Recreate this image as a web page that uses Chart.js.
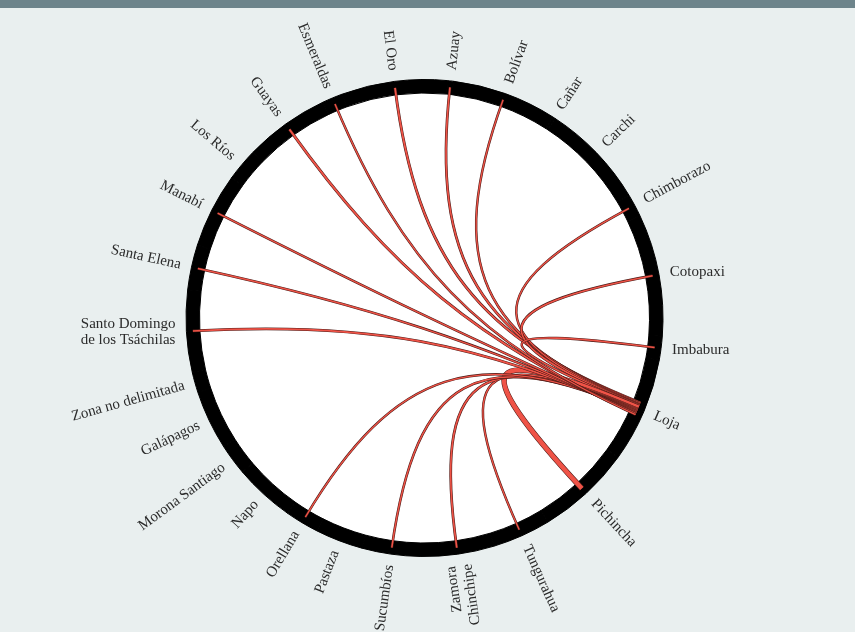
<!DOCTYPE html>
<html><head><meta charset="utf-8">
<script src="https://cdn.jsdelivr.net/npm/chart.js@4.4.1/dist/chart.umd.min.js"></script>
<style>
html,body{margin:0;padding:0;background:#e9efef;width:855px;height:632px;overflow:hidden}
#bar{position:absolute;left:0;top:0;width:855px;height:8px;background:#6d848b;z-index:2}
canvas{position:absolute;left:0;top:0}
</style></head><body>
<div id="bar"></div>
<canvas id="c" width="855" height="632"></canvas>
<script>
// Provinces around the ring, clockwise starting at El Oro
const provinces = ["El Oro","Azuay","Bolívar","Cañar","Carchi","Chimborazo","Cotopaxi","Imbabura","Loja","Pichincha","Tungurahua",["Zamora","Chinchipe"],"Sucumbíos","Pastaza","Orellana","Napo","Morona Santiago","Galápagos","Zona no delimitada",["Santo Domingo","de los Tsáchilas"],"Santa Elena","Manabí","Los Ríos","Guayas","Esmeraldas"];
// Arc span of each province group on the ring (degrees)
const arcSpan = [25.8,1.4,25.6,0.6,25.8,5.6,29.8,5.8,25.6,23,14.2,18,14.2,11.6,8.2,14.8,7.6,14.4,5,20,11,18.2,8,20.8,5];
// Origin of all chords
const origin = "Loja";
// Flow from Loja to each province (relative units)
const flowsFromLoja = [1.2,1.1,0.9,0,0,0.9,1.1,0.9,0,3,0.9,1.1,1.0,0,0.9,0,0,0,0,1.1,1.0,0.9,0,1.2,0.9];

const ringStartDeg = 339.8;

const mid = a => (a.startAngle + a.endAngle) / 2;

const discPlugin = {
  id: 'disc',
  beforeDatasetsDraw(chart) {
    const arc = chart.getDatasetMeta(0).data[0];
    const ctx = chart.ctx;
    ctx.save();
    ctx.beginPath();
    ctx.arc(arc.x, arc.y, arc.outerRadius - 1, 0, Math.PI * 2);
    ctx.fillStyle = '#ffffff';
    ctx.fill();
    ctx.restore();
  }
};

const chordPlugin = {
  id: 'chords',
  afterDatasetsDraw(chart) {
    const ctx = chart.ctx;
    const arcs = chart.getDatasetMeta(0).data;
    const cx = arcs[0].x, cy = arcs[0].y;
    const r = arcs[0].innerRadius + 7;
    const src = provinces.indexOf(origin);
    const spacing = 0.75 / r;      // source slot per unit of flow (radians)
    const pxPerUnit = 1.5;         // chord width per unit of flow
    const k = 0.25;                // bezier control distance (fraction of radius)
    const total = flowsFromLoja.reduce((s, v) => s + v, 0);
    const sc = mid(arcs[src]);
    let a = sc - total * spacing / 2;
    const pt = ang => [cx + r * Math.cos(ang), cy + r * Math.sin(ang)];
    const cp = ang => [cx + k * r * Math.cos(ang), cy + k * r * Math.sin(ang)];
    ctx.save();
    ctx.lineCap = 'butt';
    flowsFromLoja.forEach((v, i) => {
      if (!v) return;
      const sa = a + v * spacing / 2;
      a += v * spacing;
      const tc = mid(arcs[i]);
      const p0 = pt(sa), p1 = pt(tc), c1 = cp(sa), c2 = cp(tc);
      const w = v * pxPerUnit;
      ctx.beginPath();
      ctx.moveTo(p0[0], p0[1]);
      ctx.bezierCurveTo(c1[0], c1[1], c2[0], c2[1], p1[0], p1[1]);
      ctx.strokeStyle = '#4a1a16';
      ctx.lineWidth = w + 1.1;
      ctx.stroke();
      ctx.strokeStyle = '#ef5347';
      ctx.lineWidth = w;
      ctx.stroke();
    });
    ctx.restore();

    // labels
    const rLabel = arcs[0].outerRadius + 11;
    ctx.save();
    ctx.font = '15px "Liberation Serif"';
    ctx.fillStyle = '#2b2b2b';
    ctx.textBaseline = 'middle';
    arcs.forEach((arc, i) => {
      const ang = mid(arc);
      let deg = (ang * 180 / Math.PI + 90) % 360;
      if (deg < 0) deg += 360;
      const flip = deg > 165;
      const rot = flip ? ang + Math.PI : ang;
      // near-horizontal labels are set flat
      let rn = Math.atan2(Math.sin(rot), Math.cos(rot));
      if (Math.abs(rn) < 11 * Math.PI / 180) rn = 0;
      const lab = chart.data.labels[i];
      const lines = Array.isArray(lab) ? lab : [lab];
      ctx.save();
      const px = cx + rLabel * Math.cos(ang), py = cy + rLabel * Math.sin(ang);
      ctx.translate(px, py);
      ctx.rotate(rn);
      ctx.textAlign = flip ? 'right' : 'left';
      const lh = 16.5;
      lines.forEach((t, kk) => ctx.fillText(t, 0, (kk - (lines.length - 1) / 2) * lh));
      ctx.restore();
    });
    ctx.restore();
  }
};

new Chart(document.getElementById('c'), {
  type: 'doughnut',
  data: {
    labels: provinces,
    datasets: [{
      data: arcSpan,
      backgroundColor: '#000000',
      borderColor: '#000000',
      borderWidth: 1,
      hoverOffset: 0
    }]
  },
  options: {
    responsive: false,
    animation: false,
    events: [],
    rotation: ringStartDeg,
    cutout: 225,
    layout: { padding: { top: 79, bottom: 75, left: 185, right: 191 } },
    plugins: { legend: { display: false }, tooltip: { enabled: false } }
  },
  plugins: [discPlugin, chordPlugin]
});
</script>
</body></html>
